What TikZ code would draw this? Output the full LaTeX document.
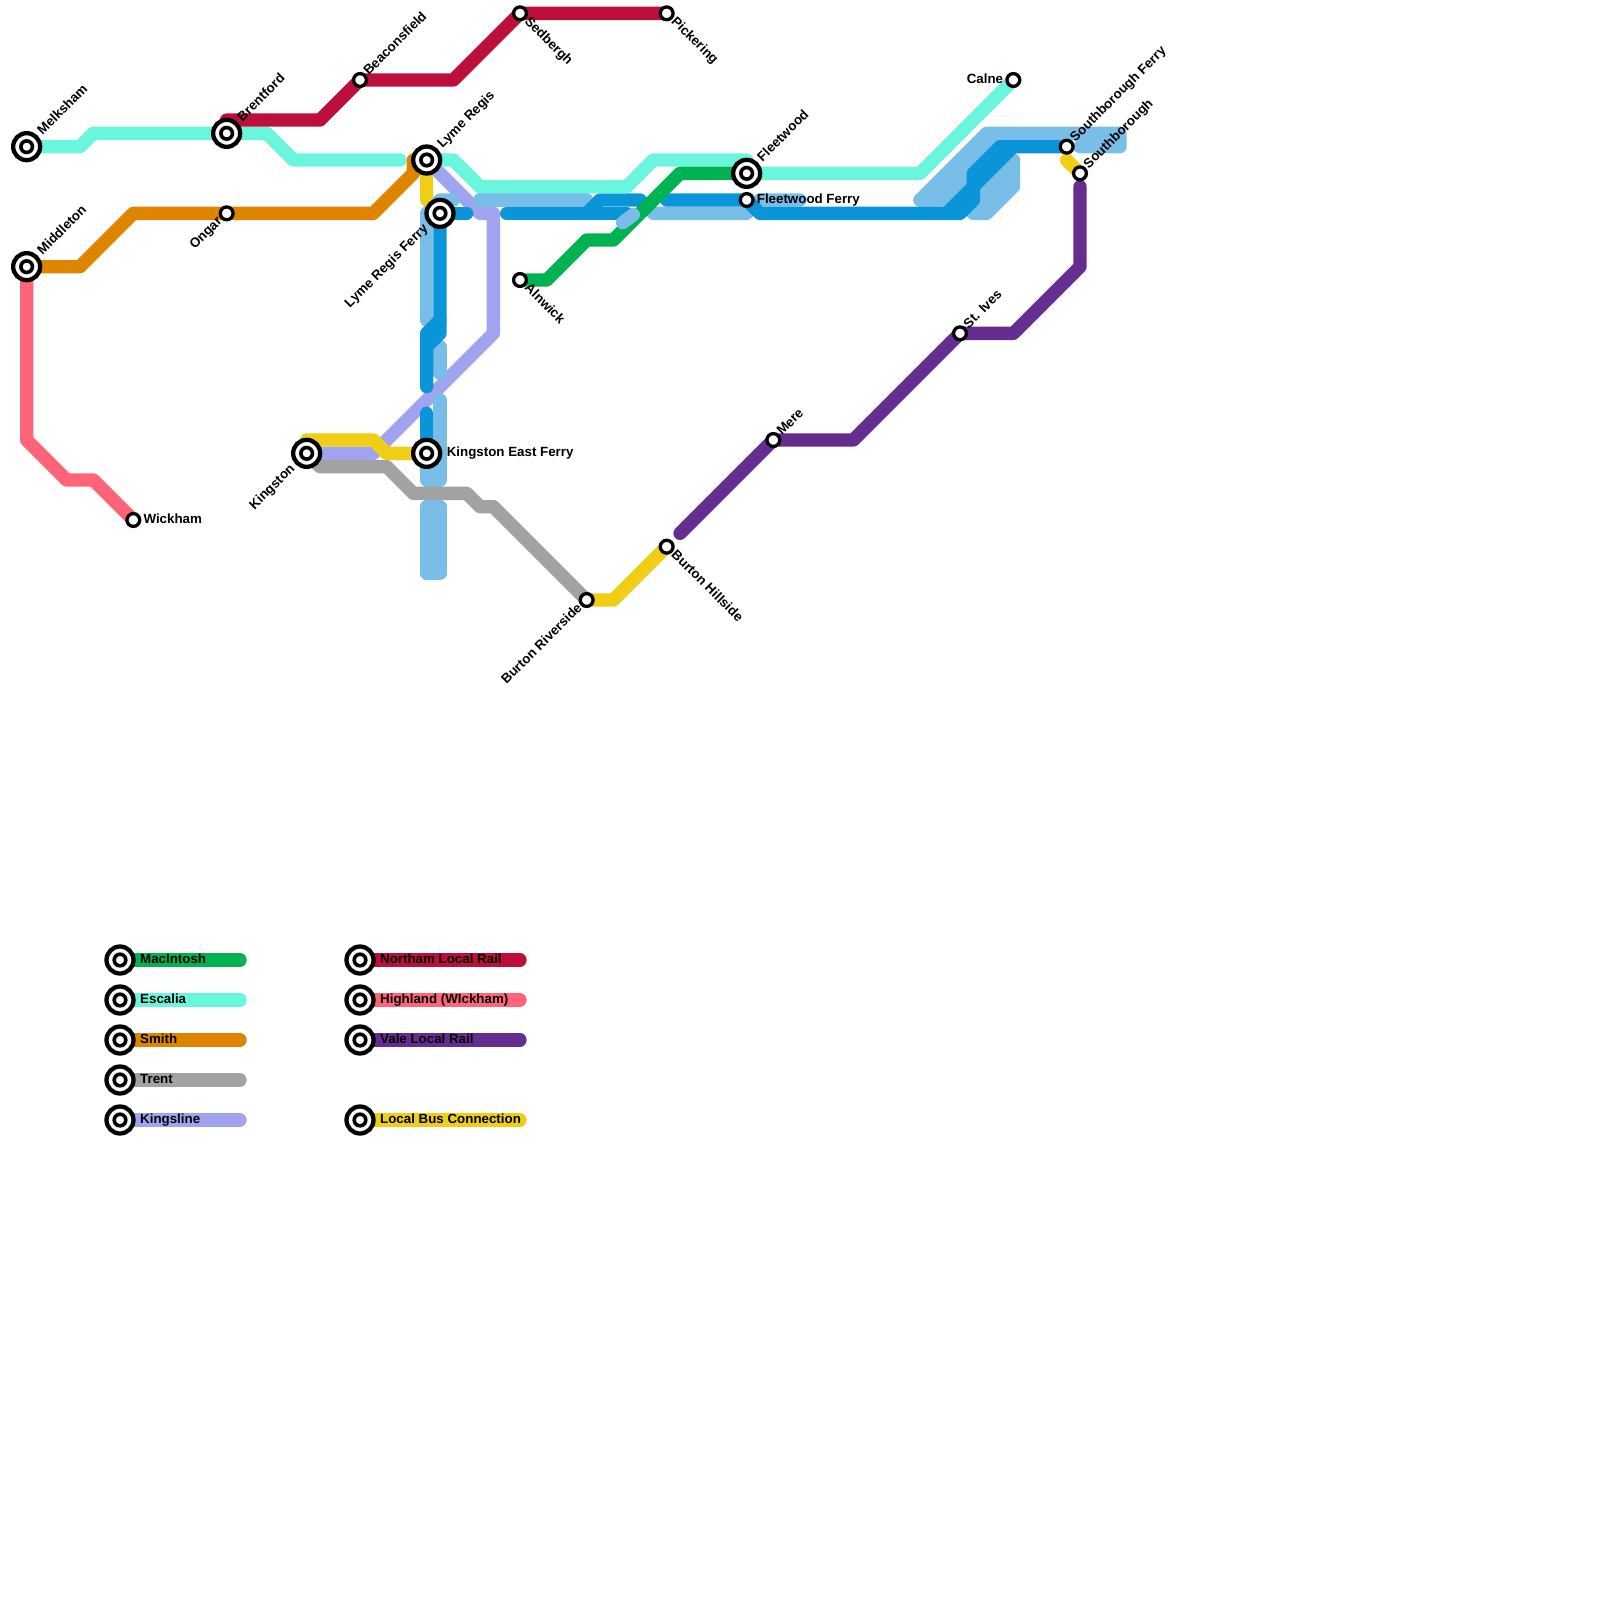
\documentclass[tikz,border=0pt]{standalone}
\usepackage{fontspec}
\setmainfont{Liberation Sans}
\definecolor{cteal}{HTML}{6AF6DD}
\definecolor{corange}{HTML}{DE8500}
\definecolor{ccrim}{HTML}{BC0F3C}
\definecolor{cpink}{HTML}{FF6479}
\definecolor{cpurp}{HTML}{662D91}
\definecolor{cyell}{HTML}{F0CE15}
\definecolor{cking}{HTML}{A0A3EF}
\definecolor{cgray}{HTML}{A2A2A2}
\definecolor{cgreen}{HTML}{00B251}
\definecolor{clight}{HTML}{79BDE9}
\definecolor{cdark}{HTML}{0A95D8}
\tikzset{
 ln/.style={line width=13.33pt,line cap=round,line join=round},
 ist/.style={circle,draw=black,fill=white,line width=4.3pt,outer sep=0pt,minimum size=27pt,inner sep=0pt},
 iin/.style={circle,draw=black,fill=white,line width=3.6pt,outer sep=0pt,minimum size=11.6pt,inner sep=0pt},
 sst/.style={circle,draw=black,fill=white,line width=3.3pt,outer sep=0pt,minimum size=12.8pt,inner sep=0pt},
 txt/.style={inner sep=0pt,font=\fontsize{13.33pt}{15pt}\selectfont\bfseries,text=black,text height=9.5pt,text depth=2.8pt},
 ne/.style={txt,rotate=45,anchor=west},
 se/.style={txt,rotate=-45,anchor=west},
 sw/.style={txt,rotate=45,anchor=east},
 ea/.style={txt,anchor=west},
 we/.style={txt,anchor=east},
}
\newcommand\ic[1]{\node[ist] (#1o) at (#1) {};\node[iin] (#1i) at (#1) {};}
\newcommand\sct[1]{\node[sst] (#1o) at (#1) {};}
\begin{document}
\begin{tikzpicture}[x=13.3333pt,y=-13.3333pt]
\useasboundingbox (0,0) rectangle (120,120);
\coordinate (melk) at (2,11);
\coordinate (midd) at (2,20);
\coordinate (bren) at (17,10);
\coordinate (onga) at (17,16);
\coordinate (beac) at (27,6);
\coordinate (sedb) at (39,1);
\coordinate (pick) at (50,1);
\coordinate (lyme) at (32,12);
\coordinate (lymf) at (33,16);
\coordinate (king) at (23,34);
\coordinate (kinf) at (32,34);
\coordinate (wick) at (10,39);
\coordinate (alnw) at (39,21);
\coordinate (burr) at (44,45);
\coordinate (burh) at (50,41);
\coordinate (flee) at (56,13);
\coordinate (flef) at (56,15);
\coordinate (mere) at (58,33);
\coordinate (ives) at (72,25);
\coordinate (caln) at (76,6);
\coordinate (soufe) at (80,11);
\coordinate (sout) at (81,13);
% legend anchors
\foreach \n/\x/\y in {la/9/72,lb/9/75,lc/9/78,ld/9/81,le/9/84,lf/27/72,lg/27/75,lh/27/78,li/27/84}{\coordinate (\n) at (\x,\y);}
\foreach \n/\x/\y in {ma/18/72,mb/18/75,mc/18/78,md/18/81,me/18/84,mf/39/72,mg/39/75,mh/39/78,mi/39/84}{\coordinate (\n) at (\x,\y);}
% kingsline under blue
\draw[ln,cking] (lyme) -- (36,16) -- (37,16) -- (37,25) -- (28,34) -- (king);
% light blue
\begin{scope}[ln,clight]
\draw (32,24) -- (32,16) -- (33,15) -- (34,15);
\draw (33,26) -- (33,28);
\draw (33,30) -- (33,36) -- (32,36) -- (kinf);
\draw (32,38) -- (33,38) -- (33,43) -- (32,43) -- cycle;
\draw (36,15) -- (44,15);
\draw (49,16) -- (56,16) -- (57,15) -- (60,15);
\draw (69,15) -- (74,10) -- (84,10) -- (84,11) -- (81,11);
\draw (70,15) -- (75,10);
\draw (69,15) -- (71,15) -- (76,10);
\draw (73,16) -- (76,13) -- (76,12);
\draw (73,15) -- (76,12);
\draw (73,16) -- (74,16) -- (76,14) -- (76,13);
\end{scope}
% dark blue
\begin{scope}[ln,cdark]
\draw (lymf) -- (35,16);
\draw (lymf) -- (33,25) -- (32,26) -- (32,29);
\draw (33,24) -- (32,25) -- (32,26);
\draw (32,31) -- (kinf);
\draw (38,16) -- (47,16);
\draw (44,16) -- (45,15) -- (48,15);
\draw (50,15) -- (56,15) -- (57,16) -- (72,16) -- (73,15) -- (73,13) -- (75,11) -- (soufe);
\draw (71,16) -- (73,14) -- (76,11);
\end{scope}
% other lines
\draw[ln,cteal] (melk) -- (6,11) -- (7,10) -- (bren) -- (20,10) -- (22,12) -- (30,12);
\draw[ln,cteal] (lyme) -- (34,12) -- (36,14) -- (47,14) -- (49,12) -- (56,12) -- (flee) -- (69,13) -- (caln);
\draw[ln,corange] (midd) -- (6,20) -- (10,16) -- (onga) -- (28,16) -- (31,13) -- (31,12) -- (lyme);
\draw[ln,ccrim] (bren) -- (17,9) -- (24,9) -- (beac) -- (34,6) -- (sedb) -- (pick);
\draw[ln,cpink] (midd) -- (2,33) -- (5,36) -- (7,36) -- (wick);
\draw[ln,cpurp] (81,14) -- (81,20) -- (76,25) -- (ives) -- (64,33) -- (mere) -- (51,40);
\draw[ln,cgray] (king) -- (24,35) -- (29,35) -- (31,37) -- (35,37) -- (36,38) -- (37,38) -- (burr);
\draw[ln,cyell] (lyme) -- (32,15);
\draw[ln,cyell] (king) -- (23,33) -- (28,33) -- (29,34) -- (kinf);
\draw[ln,cyell] (burr) -- (46,45) -- (burh);
\draw[ln,cyell] (80,12) -- (sout);
\draw[ln,cgreen] (alnw) -- (41,21) -- (44,18) -- (46,18) -- (51,13) -- (flee);
\draw[ln,clight] (47.5,16.1) -- (46.7,16.7);
% legend lines
\draw[ln,cgreen] (la) -- (ma);
\draw[ln,cteal] (lb) -- (mb);
\draw[ln,corange] (lc) -- (mc);
\draw[ln,cgray] (ld) -- (md);
\draw[ln,cking] (le) -- (me);
\draw[ln,ccrim] (lf) -- (mf);
\draw[ln,cpink] (lg) -- (mg);
\draw[ln,cpurp] (lh) -- (mh);
\draw[ln,cyell] (li) -- (mi);
% stations
\ic{melk}\ic{midd}\ic{bren}\sct{onga}\sct{beac}\sct{sedb}\sct{pick}\ic{lyme}\ic{lymf}\ic{king}\ic{kinf}
\sct{wick}\sct{alnw}\sct{burr}\sct{burh}\ic{flee}\sct{flef}\sct{mere}\sct{ives}\sct{caln}\sct{soufe}\sct{sout}
\ic{la}\ic{lb}\ic{lc}\ic{ld}\ic{le}\ic{lf}\ic{lg}\ic{lh}\ic{li}
% labels
\node[ne] (t1) at ([shift={(13.5pt,13.5pt)}]melk) {Melksham};
\node[ne] (t2) at ([shift={(13.5pt,13.5pt)}]midd) {Middleton};
\node[ne] (t3) at ([shift={(13.5pt,13.5pt)}]bren) {Brentford};
\node[ne] (t4) at ([shift={(6.3pt,6.3pt)}]beac) {Beaconsfield};
\node[ne] (t5) at ([shift={(13.5pt,13.5pt)}]lyme) {Lyme Regis};
\node[ne] (t6) at ([shift={(13.5pt,13.5pt)}]flee) {Fleetwood};
\node[ne] (t7) at ([shift={(6.3pt,6.3pt)}]mere) {Mere};
\node[ne] (t8) at ([shift={(6.3pt,6.3pt)}]ives) {St. Ives};
\node[ne] (t9) at ([shift={(6.3pt,6.3pt)}]soufe) {Southborough Ferry};
\node[ne] (t10) at ([shift={(6.3pt,6.3pt)}]sout) {Southborough};
\node[se] (t11) at ([shift={(6.3pt,-6.3pt)}]sedb) {Sedbergh};
\node[se] (t12) at ([shift={(6.3pt,-6.3pt)}]pick) {Pickering};
\node[se] (t13) at ([shift={(6.3pt,-6.3pt)}]alnw) {Alnwick};
\node[se] (t14) at ([shift={(6.3pt,-6.3pt)}]burh) {Burton Hillside};
\node[sw] (t15) at ([shift={(-6.3pt,-6.3pt)}]onga) {Ongar};
\node[sw] (t16) at ([shift={(-13.5pt,-13.5pt)}]lymf) {Lyme Regis Ferry};
\node[sw] (t17) at ([shift={(-13.5pt,-13.5pt)}]king) {Kingston};
\node[sw] (t18) at ([shift={(-6.3pt,-6.3pt)}]burr) {Burton Riverside};
\node[ea] (t19) at ([shift={(10pt,0pt)}]wick) {Wickham};
\node[ea] (t20) at ([shift={(20pt,0pt)}]kinf) {Kingston East Ferry};
\node[ea] (t21) at ([shift={(10pt,0pt)}]flef) {Fleetwood Ferry};
\node[we] (t22) at ([shift={(-10pt,0pt)}]caln) {Calne};
\node[ea] (t23) at ([shift={(20pt,0pt)}]la) {MacIntosh};
\node[ea] (t24) at ([shift={(20pt,0pt)}]lb) {Escalia};
\node[ea] (t25) at ([shift={(20pt,0pt)}]lc) {Smith};
\node[ea] (t26) at ([shift={(20pt,0pt)}]ld) {Trent};
\node[ea] (t27) at ([shift={(20pt,0pt)}]le) {Kingsline};
\node[ea] (t28) at ([shift={(20pt,0pt)}]lf) {Northam Local Rail};
\node[ea] (t29) at ([shift={(20pt,0pt)}]lg) {Highland (WIckham)};
\node[ea] (t30) at ([shift={(20pt,0pt)}]lh) {Vale Local Rail};
\node[ea] (t31) at ([shift={(20pt,0pt)}]li) {Local Bus Connection};
\end{tikzpicture}
\end{document}
